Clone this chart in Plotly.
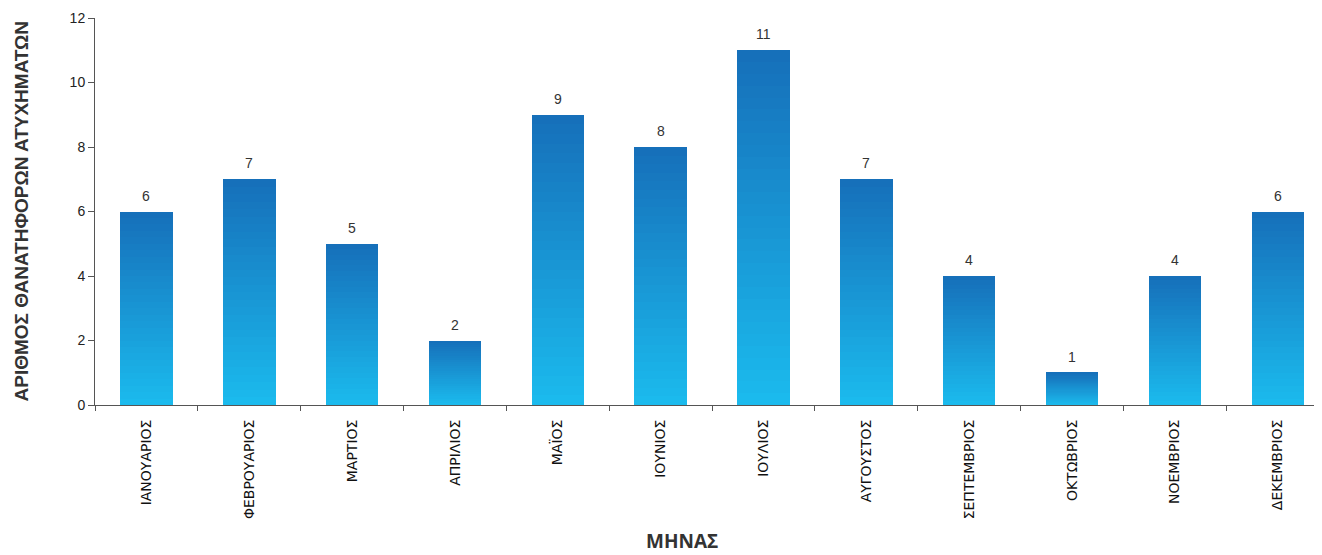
import plotly.graph_objects as go

months = [
    "ΙΑΝΟΥΑΡΙΟΣ", "ΦΕΒΡΟΥΑΡΙΟΣ", "ΜΑΡΤΙΟΣ", "ΑΠΡΙΛΙΟΣ", "ΜΑΪΟΣ", "ΙΟΥΝΙΟΣ",
    "ΙΟΥΛΙΟΣ", "ΑΥΓΟΥΣΤΟΣ", "ΣΕΠΤΕΜΒΡΙΟΣ", "ΟΚΤΩΒΡΙΟΣ", "ΝΟΕΜΒΡΙΟΣ", "ΔΕΚΕΜΒΡΙΟΣ",
]
accidents = [6, 7, 5, 2, 9, 8, 11, 7, 4, 1, 4, 6]

# gradient: each bar is split into thin stacked slices, light at bottom, dark at top
N_SLICES = 30
BOTTOM = (27, 186, 237)
TOP = (22, 112, 186)


def _mix(t):
    r, g, b = (round(BOTTOM[i] + (TOP[i] - BOTTOM[i]) * t) for i in range(3))
    return f"rgb({r},{g},{b})"


fig = go.Figure()
for k in range(N_SLICES):
    fig.add_trace(
        go.Bar(
            x=months,
            y=[v / N_SLICES for v in accidents],
            marker=dict(color=_mix(k / (N_SLICES - 1)), line=dict(width=0)),
            hoverinfo="skip",
            showlegend=False,
        )
    )

# value labels above the bars
for m, v in zip(months, accidents):
    fig.add_annotation(
        x=m, y=v, text=str(v), showarrow=False,
        yanchor="bottom", yshift=6,
        font=dict(family="Liberation Sans, Arial", size=14, color="#333333"),
    )

# axis titles as paper annotations so their position is fixed
fig.add_annotation(
    xref="paper", yref="paper", x=0.478, y=-0.352, yanchor="middle",
    text="<b>ΜΗΝΑΣ</b>", showarrow=False,
    font=dict(family="Open Sans, Liberation Sans", size=19, color="#333333"),
)
fig.add_annotation(
    xref="paper", yref="paper", x=-0.0603, y=0.5, xanchor="center", yanchor="middle",
    textangle=-90, text="<b>ΑΡΙΘΜΟΣ ΘΑΝΑΤΗΦΟΡΩΝ ΑΤΥΧΗΜΑΤΩΝ</b>", showarrow=False,
    font=dict(family="Liberation Sans, Arial", size=19, color="#333333"),
)

# page body has an 8px margin, so the figure is sized/offset to compensate
fig.update_layout(
    width=1314,
    height=547,
    barmode="stack",
    bargap=0.49,
    paper_bgcolor="white",
    plot_bgcolor="white",
    margin=dict(l=87, r=0, t=10, b=150),
    font=dict(family="Liberation Sans, Arial", color="#333333"),
)
fig.update_xaxes(
    range=[-0.5, 11.43],
    automargin=False,
    showline=True,
    linecolor="#555555",
    linewidth=1,
    ticks="outside",
    tickson="boundaries",
    ticklen=5,
    tickcolor="#555555",
    tickangle=-90,
    ticklabelstandoff=8,
    tickfont=dict(family="DejaVu Sans", size=14, color="#111111"),
    showgrid=False,
)
fig.update_yaxes(
    range=[0, 12],
    dtick=2,
    automargin=False,
    showline=True,
    linecolor="#555555",
    linewidth=1,
    ticks="outside",
    ticklen=6,
    tickcolor="#555555",
    tickfont=dict(size=14, color="#222222"),
    showgrid=False,
    zeroline=False,
)

fig.write_html("out.html")
